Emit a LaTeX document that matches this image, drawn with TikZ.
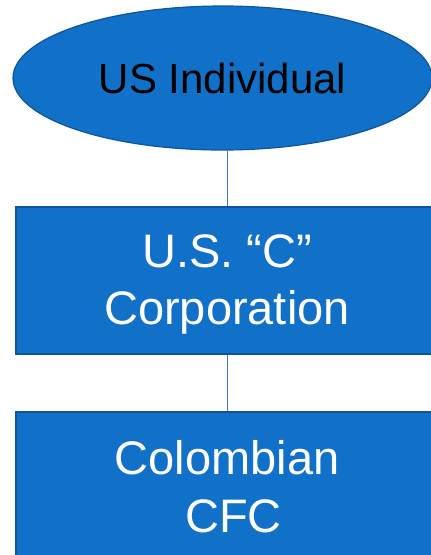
\documentclass[tikz,border=0pt]{standalone}
\usepackage{fontspec}
\setmainfont{Liberation Sans}
\usetikzlibrary{shapes.geometric}
\definecolor{boxfill}{RGB}{17,112,200}
\definecolor{boxedge}{RGB}{14,85,155}
\definecolor{linkblue}{RGB}{60,120,200}
\tikzset{
  entity/.style={draw=boxedge, line width=1.6pt, fill=boxfill, inner sep=0pt, align=center},
  owner/.style={entity, ellipse, line width=1.2pt, minimum width=419pt, minimum height=144pt,
    font=\fontsize{42}{50}\selectfont, text=black},
  company/.style={entity, rectangle, minimum width=422pt, minimum height=147pt},
  companytext/.style={inner sep=0pt, align=center, text=white,
    font=\fontsize{47}{57.5}\selectfont},
  link/.style={draw=linkblue, line width=1pt}
}
\begin{document}
\begin{tikzpicture}[x=1pt, y=-1pt]
  \useasboundingbox (0,0) rectangle (431,555);
  \node[owner] (ind) at (222.5,78) {US Individual};
  \node[company] (corp) at (227,280.5) {};
  \node[companytext] (corptext) at ([yshift=-4pt]corp.center) {U.S. “C”\\Corporation};
  \node[company] (cfc) at (227,485.5) {};
  \node[companytext] (cfctext) at ([yshift=-1pt]cfc.center) {Colombian\\\hspace{13pt}CFC};
  \draw[link] (corp.north) -- (corp.north |- ind.south);
  \draw[link] (corp.south) -- (cfc.north);
\end{tikzpicture}
\end{document}
